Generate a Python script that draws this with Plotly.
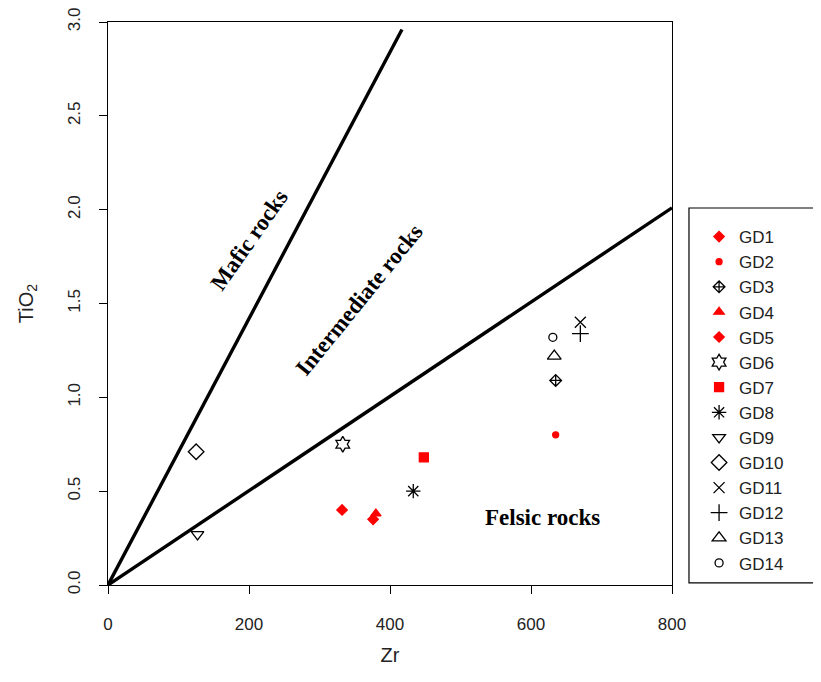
import plotly.graph_objects as go

# Data
names = ["GD1", "GD2", "GD3", "GD4", "GD5", "GD6", "GD7", "GD8", "GD9", "GD10",
         "GD11", "GD12", "GD13", "GD14"]
zr = [376, 635, 635, 380, 332, 333, 448, 433, 127, 125, 670, 670, 633, 631]
tio2 = [0.35, 0.80, 1.09, 0.38, 0.40, 0.75, 0.68, 0.50, 0.27, 0.71, 1.40, 1.34, 1.22, 1.32]
colors = ["red", "red", "black", "red", "red", "black", "red", "black", "black", "black",
          "black", "black", "black", "black"]
symbols = ["diamond", "circle", "diamond-cross-open", "triangle-up", "diamond", "hexagram-open",
           "square", "asterisk-open", "triangle-down-open", "diamond-open", "x-thin-open",
           "cross-thin-open", "triangle-up-open", "circle-open"]
sizes = [8, 6, 9, 9, 8, 12, 9, 12, 11, 12, 11, 12, 12, 8]

# Boundary lines (Zr, TiO2)
mafic_line_x = [0, 417]
mafic_line_y = [0, 2.96]
felsic_line_x = [0, 800]
felsic_line_y = [0, 2.01]

fig = go.Figure()
fig.add_trace(go.Scatter(x=mafic_line_x, y=mafic_line_y, mode="lines",
                         line=dict(color="black", width=3.4), showlegend=False,
                         hoverinfo="skip", cliponaxis=False))
fig.add_trace(go.Scatter(x=felsic_line_x, y=felsic_line_y, mode="lines",
                         line=dict(color="black", width=3.4), showlegend=False,
                         hoverinfo="skip", cliponaxis=False))

for i, n in enumerate(names):
    fig.add_trace(go.Scatter(
        x=[zr[i]], y=[tio2[i]], mode="markers", name=n,
        marker=dict(symbol=symbols[i], color=colors[i], size=sizes[i],
                    line=dict(color=colors[i], width=1.3)),
        cliponaxis=False))

serif = "Times New Roman, Liberation Serif, serif"
fig.add_annotation(x=201, y=1.84, text="<b>Mafic rocks</b>", showarrow=False,
                   textangle=-55, font=dict(family=serif, size=23, color="black"))
fig.add_annotation(x=357, y=1.52, text="<b>Intermediate rocks</b>", showarrow=False,
                   textangle=-51, font=dict(family=serif, size=23, color="black"))
fig.add_annotation(x=616, y=0.36, text="<b>Felsic rocks</b>", showarrow=False,
                   font=dict(family=serif, size=23, color="black"))

# legend box
fig.add_shape(type="rect", xref="paper", yref="paper", x0=1.0301, x1=1.4,
              y0=0.0036, y1=0.6696, line=dict(color="black", width=1.2))

fig.update_layout(
    width=813, height=674,
    margin=dict(l=100, r=149, t=14, b=97, autoexpand=False),
    plot_bgcolor="white", paper_bgcolor="white",
    font=dict(family="Arial, Liberation Sans, sans-serif", size=17, color="#222"),
    legend=dict(x=1.048, y=0.650, xanchor="left", yanchor="top",
                font=dict(size=17, color="#222"),
                bgcolor="rgba(0,0,0,0)", borderwidth=0),
    xaxis=dict(range=[0, 800], tickvals=[0, 200, 400, 600, 800],
               showline=True, linecolor="black", linewidth=1, mirror=True,
               ticks="outside", ticklen=8, tickcolor="black", showgrid=False,
               zeroline=False, ticklabelstandoff=16, ticklabeloverflow="allow",
               title=dict(text="Zr", standoff=14)),
    yaxis=dict(range=[0, 3], tickvals=[0, 0.5, 1.0, 1.5, 2.0, 2.5, 3.0],
               ticktext=["0.0", "0.5", "1.0", "1.5", "2.0", "2.5", "3.0"],
               tickangle=-90, ticklabelstandoff=12, ticklabeloverflow="allow",
               showline=True, linecolor="black", linewidth=1, mirror=True,
               ticks="outside", ticklen=8, tickcolor="black", showgrid=False,
               zeroline=False, title=dict(text="TiO<sub>2</sub>", standoff=26)),
)

fig.write_html("out.html")
